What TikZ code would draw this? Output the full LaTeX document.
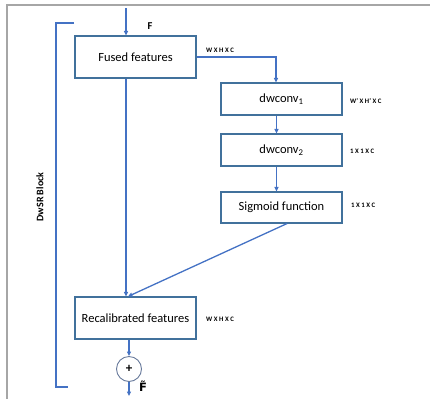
\documentclass[tikz,border=0pt]{standalone}
\usepackage{fontspec}
\setmainfont{Carlito}
\newfontfamily\dejavu{DejaVu Sans}
\usetikzlibrary{arrows.meta}
\definecolor{lineblue}{HTML}{4472C4}
\definecolor{boxblue}{HTML}{41719C}
\definecolor{frame}{HTML}{A6A6A6}
\begin{document}
\begin{tikzpicture}[x=1pt, y=-1pt,
  box/.style={draw=boxblue, line width=1.1pt, minimum width=121pt, inner sep=0pt, font=\fontsize{12.5}{14}\selectfont},
  flow/.style={lineblue, line width=1.3pt, -{Triangle[length=4.5pt,width=4pt]}},
  dims/.style={anchor=west, inner sep=0pt, font=\bfseries\fontsize{6.8}{7}\selectfont}]

\useasboundingbox ( 0, 0 ) rectangle ( 430, 399 );

%% Frame
\draw [frame, line width=1.5pt] ( 430, 5 ) -- ( 7, 5 ) -- ( 7, 399 );

%% Blocks
\node [box, minimum height=42pt] (fused) at ( 135.5, 57 ) {Fused features};
\node [box, minimum height=32pt] (dw1) at ( 281.5, 99 ) {\raisebox{-4pt}{dwconv\textsubscript{1}}};
\node [box, minimum height=32pt] (dw2) at ( 281.5, 150 ) {dwconv\textsubscript{2}};
\node [box, minimum height=31pt] (sig) at ( 281.5, 207.5 ) {\raisebox{-5pt}{Sigmoid function}};
\node [box, minimum height=42pt] (recal) at ( 135.5, 318 ) {Recalibrated features};
\node [draw=lineblue!40!gray, line width=0.9pt, circle, minimum size=25pt, inner sep=0pt,
  font=\bfseries\fontsize{13}{14}\selectfont] (plus) at ( 129, 369 ) {+};

%% Inputs and outputs
\coordinate (in) at ( 126, 8 );
\coordinate (out) at ( 129, 396 );
\node [font=\bfseries\fontsize{10.5}{12}\selectfont] (F) at ( 150, 26 ) {F};
\node [font=\dejavu\bfseries\fontsize{11.5}{12}\selectfont] (Ft) at ( 143, 386 ) {F̃};

%% Connectors
\draw [flow] (in) -- (in |- fused.north);
\draw [flow] (fused.east) -| ([xshift=-5.5pt]dw1.north);
\draw [flow] ([xshift=-5pt]dw1.south) -- ([xshift=-5pt]dw2.north);
\draw [flow] ([xshift=-5pt]dw2.south) -- ([xshift=-5pt]sig.north);
\draw [flow] ([xshift=-9.5pt]fused.south) -- ([xshift=-9.5pt]recal.north);
\draw [flow] ([xshift=5.5pt]sig.south) -- ([xshift=-7.5pt]recal.north);
\draw [flow] ([xshift=-6.5pt]recal.south) -- (plus.north);
\draw [flow] (plus.south) -- (out);

%% Dimensions
\node [dims] (dfused) at ( 206, 50 ) {W X H X C};
\node [dims] (ddw1) at ( 350, 101 ) {W' X H' X C};
\node [dims] (ddw2) at ( 350, 151 ) {1 X 1 X C};
\node [dims] (dsig) at ( 351, 205 ) {1 X 1 X C};
\node [dims] (drecal) at ( 206, 319 ) {W X H X C};

%% DwSR bracket
\draw [lineblue, line width=1.3pt] ( 74, 23 ) -- ( 56, 23 ) -- ( 56, 387 ) -- ( 68, 387 );
\node [rotate=90, font=\bfseries\fontsize{10}{12}\selectfont] (blk) at ( 40, 197 ) {DwSR Block};

\end{tikzpicture}
\end{document}
